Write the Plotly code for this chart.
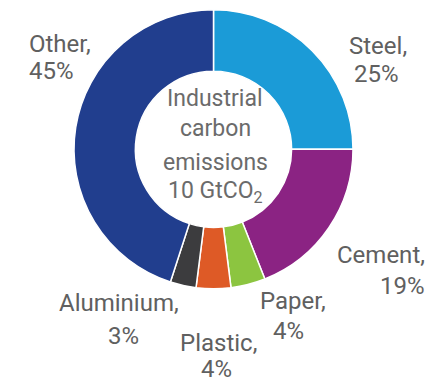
import plotly.graph_objects as go

# ---- data ----
categories = ["Steel", "Cement", "Paper", "Plastic", "Aluminium", "Other"]
shares = [25, 19, 4, 4, 3, 45]
center_title = ["Industrial", "carbon", "emissions", "10 GtCO<sub>2</sub>"]

# ---- styles ----
colors = ["#1b9bd7", "#8b2383", "#8cc540", "#de5a26", "#3c3c3e", "#213e8e"]
W, H = 447, 378
cx, cy, R = 213.5, 149.3, 139.5

# label placement (pixel coords: name line, value line) with anchor
label_layout = {
    "Steel":     dict(anchor="center", name=(377.5, 46), value=(376, 74)),
    "Cement":    dict(anchor="right",  name=(427, 255), value=(427, 286)),
    "Paper":     dict(anchor="center", name=(292.5, 301), value=(288, 331)),
    "Plastic":   dict(anchor="center", name=(218, 343), value=(216, 369)),
    "Aluminium": dict(anchor="center", name=(119, 303), value=(123, 336)),
    "Other":     dict(anchor="left",   name=(27, 44), value=(27, 71)),
}
center_lines_y = [98, 128, 162, 192]

fig = go.Figure(go.Pie(
    labels=categories,
    values=shares,
    sort=False,
    direction="clockwise",
    rotation=0,
    hole=0.56,
    marker=dict(colors=colors, line=dict(color="white", width=1.5)),
    textinfo="none",
    hoverinfo="label+percent",
    showlegend=False,
    domain=dict(x=[(cx - R) / W, (cx + R) / W], y=[1 - (cy + R) / H, 1 - (cy - R) / H]),
))

font_lbl = dict(family="Roboto", size=24, color="#606060")
annotations = []
for cat, val in zip(categories, shares):
    lay = label_layout[cat]
    for key, txt in (("name", f"{cat},"), ("value", f"{val}%")):
        px, py = lay[key]
        annotations.append(dict(
            x=px / W, y=1 - py / H, xref="paper", yref="paper",
            text=txt, showarrow=False, xanchor=lay["anchor"], yanchor="middle",
            font=font_lbl,
        ))

for txt, py in zip(center_title, center_lines_y):
    annotations.append(dict(
        x=215 / W, y=1 - py / H, xref="paper", yref="paper",
        text=txt, showarrow=False,
        xanchor="center", yanchor="middle", align="center",
        font=dict(family="Roboto", size=23, color="#6b6b6b"),
    ))

fig.update_layout(
    width=W, height=H,
    margin=dict(l=0, r=0, t=0, b=0),
    paper_bgcolor="white", plot_bgcolor="white",
    annotations=annotations,
)

fig.write_html(
    "out.html",
    config={"displayModeBar": False},
    post_script="document.body.style.margin='0';",
)
